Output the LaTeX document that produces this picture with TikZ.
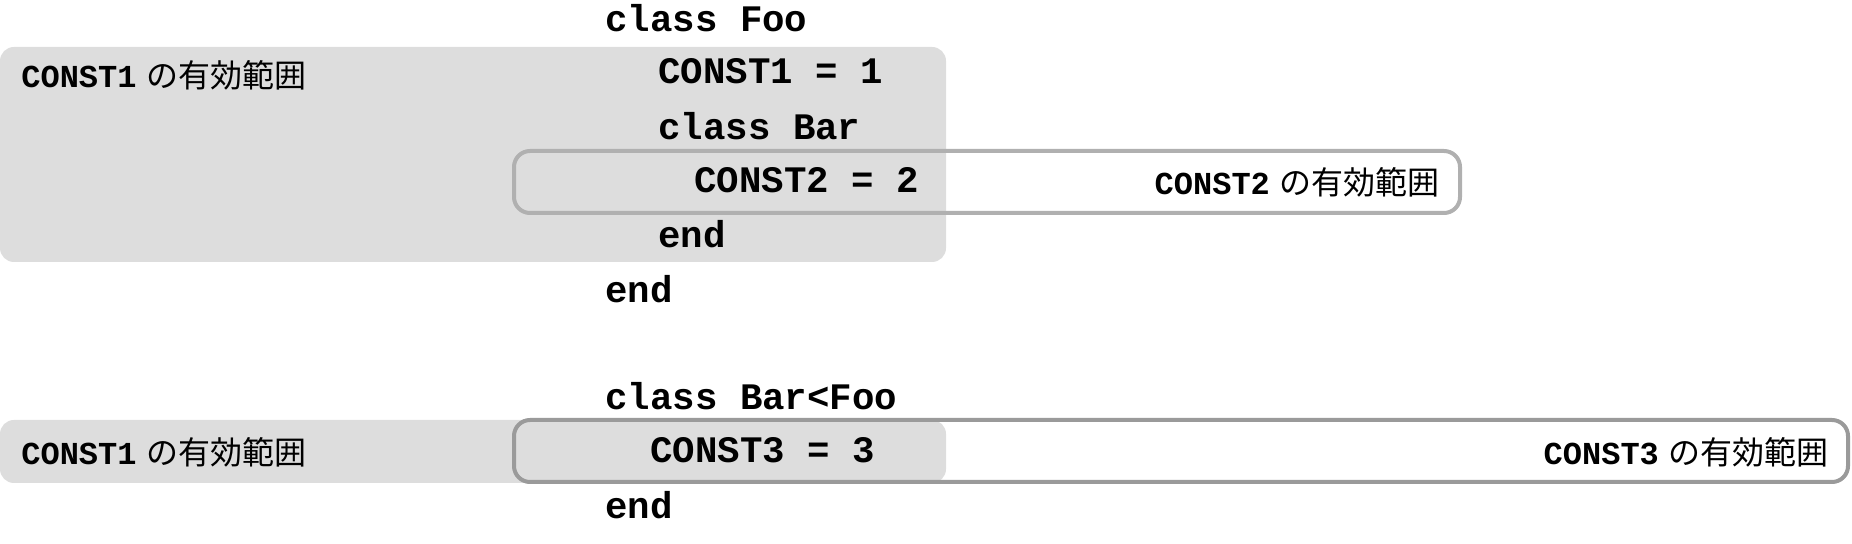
\documentclass[tikz,border=0pt]{standalone}
\usepackage{fontspec}
\setmonofont{Liberation Mono}
\newfontfamily\jpfont{Noto Sans CJK JP}
\usetikzlibrary{positioning}
\definecolor{scopefill}{HTML}{DDDDDD}
\definecolor{scopeline}{HTML}{B0B0B0}
\definecolor{scopelinedark}{HTML}{9A9A9A}
\tikzset{
  code/.style={anchor=west,inner sep=0pt,font=\ttfamily\bfseries\fontsize{18.7}{20}\selectfont},
  scopelabel/.style={inner sep=0pt,font=\fontsize{16}{18}\selectfont},
  scopebox/.style={fill=scopefill,rounded corners=7pt},
  scopeframe/.style={draw=scopeline,line width=2pt,rounded corners=8pt}
}
\newcommand{\validrange}[1]{\texttt{\bfseries #1} {\jpfont の有効範囲}}
\begin{document}
\begin{tikzpicture}[x=0.5pt,y=-0.5pt]
\useasboundingbox(0,0)rectangle(1852,544);

%上の図
\fill[scopebox](0,47)rectangle(946,262); %CONST1の範囲
\draw[scopeframe](514,151)rectangle(1460,213); %CONST2の範囲

\node[code](foo)at(605,18){class Foo};
\node[code](c1)at(658,71){CONST1 = 1};
\node[code](bar)at(658,126){class Bar};
\node[code](c2)at(694,180){CONST2 = 2};
\node[code](endbar)at(658,234){end};
\node[code](endfoo)at(605,289){end};

\node[scopelabel,anchor=west](lc1)at(21,75){\validrange{CONST1}};
\node[scopelabel,anchor=east](lc2)at(1440,182){\validrange{CONST2}};

%下の図
\fill[scopebox](0,420)rectangle(946,483); %CONST1の範囲
\draw[scopeframe,draw=scopelinedark](514,420)rectangle(1848,482); %CONST3の範囲

\node[code](barfoo)at(605,396){class Bar<Foo};
\node[code](c3)at(650,450){CONST3 = 3};
\node[code](endb)at(605,505){end};

\node[scopelabel,anchor=west](lc1b)at(21,452){\validrange{CONST1}};
\node[scopelabel,anchor=east](lc3)at(1829,452){\validrange{CONST3}};
\end{tikzpicture}
\end{document}
